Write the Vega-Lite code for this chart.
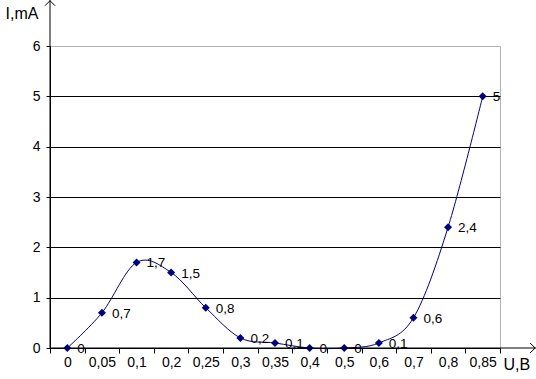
{
  "$schema": "https://vega.github.io/schema/vega-lite/v6.json",
  "width": 450,
  "height": 302,
  "autosize": {"type": "none"},
  "padding": {"left": 50, "top": 46, "right": 36, "bottom": 31},
  "background": "white",
  "config": {
    "view": {"stroke": "#b4b4b4", "strokeWidth": 1},
    "font": "Liberation Sans",
    "locale": {"number": {"decimal": ",", "thousands": " ", "grouping": [3], "currency": ["", ""]}},
    "axis": {"labelColor": "black", "titleColor": "black", "domainColor": "black", "tickColor": "black", "labelFont": "Liberation Sans", "titleFont": "Liberation Sans", "titleFontWeight": "normal"}
  },
  "resolve": {"scale": {"x": "independent", "y": "independent"}},
  "layer": [
    {
      "data": {"values": [
        {"U": 0, "I": 0},
        {"U": 0.05, "I": 0.7},
        {"U": 0.1, "I": 1.7},
        {"U": 0.2, "I": 1.5},
        {"U": 0.25, "I": 0.8},
        {"U": 0.3, "I": 0.2},
        {"U": 0.35, "I": 0.1},
        {"U": 0.4, "I": 0},
        {"U": 0.5, "I": 0},
        {"U": 0.6, "I": 0.1},
        {"U": 0.7, "I": 0.6},
        {"U": 0.8, "I": 2.4},
        {"U": 0.85, "I": 5}
      ]},
      "encoding": {
        "x": {
          "field": "U", "type": "ordinal", "sort": null,
          "scale": {"paddingInner": 0, "paddingOuter": 0},
          "axis": {
            "title": "U,B", "titleX": 453, "titleY": 21, "titleAlign": "left", "titleBaseline": "alphabetic", "titleFontSize": 16,
            "titleAngle": 0,
            "formatType": "number", "format": "~r",
            "labelFontSize": 14, "labelAngle": 0, "labelPadding": 2,
            "tickSize": 5, "tickBand": "extent", "grid": false, "labelBaseline": "top"
          }
        },
        "y": {
          "field": "I", "type": "quantitative",
          "scale": {"domain": [0, 6], "nice": false},
          "axis": {
            "title": "I,mA", "titleAngle": 0, "titleX": -45, "titleY": -28, "titleAlign": "left", "titleBaseline": "alphabetic", "titleFontSize": 16,
            "values": [0, 1, 2, 3, 4, 5, 6], "format": "d",
            "labelFontSize": 14, "labelPadding": 6, "tickSize": 4,
            "grid": true,
            "gridColor": {"condition": {"test": "datum.value >= 6", "value": "#b4b4b4"}, "value": "black"},
            "gridOpacity": 1
          }
        }
      },
      "layer": [
        {"mark": {"type": "line", "interpolate": "cardinal", "color": "#000080", "strokeWidth": 1}},
        {"mark": {"type": "point", "shape": "diamond", "filled": true, "color": "#000080", "size": 64, "opacity": 1}},
        {"mark": {"type": "text", "align": "left", "baseline": "middle", "dx": 10, "dy": 1, "fontSize": 13.5, "color": "black"},
         "encoding": {"text": {"field": "I", "type": "quantitative", "format": "~r"}}}
      ]
    },
    {
      "data": {"values": [{}]},
      "layer": [
        {"mark": {"type": "rule", "color": "black", "strokeWidth": 1},
         "encoding": {
           "x": {"datum": 0, "type": "quantitative", "scale": {"domain": [0, 1], "nice": false, "zero": false}, "axis": null},
           "x2": {"datum": 1.08},
           "y": {"datum": 0, "type": "quantitative", "scale": {"domain": [0, 1], "nice": false, "zero": false}, "axis": null}
         }},
        {"mark": {"type": "rule", "color": "black", "strokeWidth": 1},
         "encoding": {
           "x": {"datum": 0, "type": "quantitative", "scale": {"domain": [0, 1], "nice": false, "zero": false}, "axis": null},
           "y": {"datum": 0, "type": "quantitative", "scale": {"domain": [0, 1], "nice": false, "zero": false}, "axis": null},
           "y2": {"datum": 1.152}
         }},
        {"mark": {"type": "point", "shape": "M-1,1L0,0L1,1", "filled": false, "stroke": "black", "strokeWidth": 1, "size": 100, "opacity": 1},
         "encoding": {
           "x": {"datum": 0, "type": "quantitative", "scale": {"domain": [0, 1], "nice": false, "zero": false}, "axis": null},
           "y": {"datum": 1.15, "type": "quantitative", "scale": {"domain": [0, 1], "nice": false, "zero": false}, "axis": null}
         }},
        {"mark": {"type": "point", "shape": "M-1,-1L0,0L-1,1", "filled": false, "stroke": "black", "strokeWidth": 1, "size": 100, "opacity": 1},
         "encoding": {
           "x": {"datum": 1.078, "type": "quantitative", "scale": {"domain": [0, 1], "nice": false, "zero": false}, "axis": null},
           "y": {"datum": 0, "type": "quantitative", "scale": {"domain": [0, 1], "nice": false, "zero": false}, "axis": null}
         }}
      ]
    }
  ]
}
